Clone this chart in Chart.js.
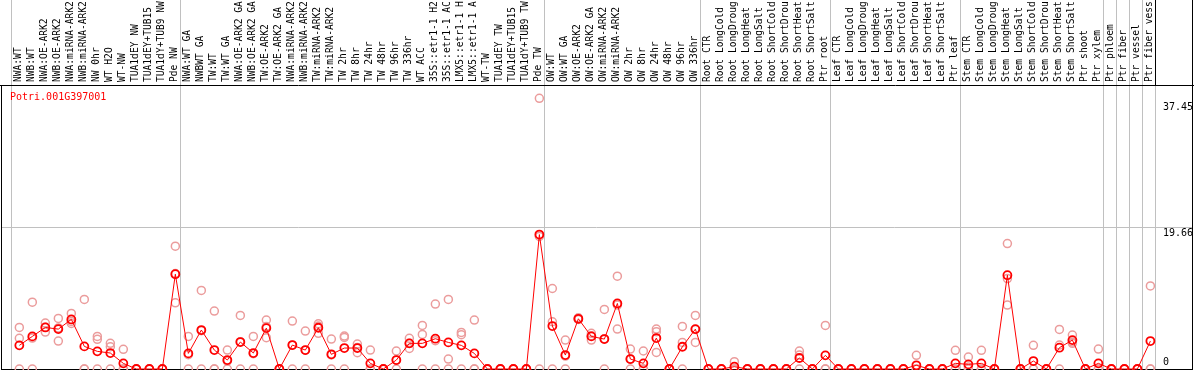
<!DOCTYPE html>
<html>
<head>
<meta charset="utf-8">
<script src="https://cdn.jsdelivr.net/npm/chart.js@4"></script>
<style>
  html, body { margin: 0; padding: 0; background: #fff; }
</style>
</head>
<body>
<canvas id="expr-chart" width="1194" height="370"></canvas>
<script>
// Nome do gene
var geneName = 'Potri.001G397001';

// Amostras (eixo x)
var categories = [
    'NWA:WT', 'NWB:WT', 'NWA:OE-ARK2', 'NWB:OE-ARK2', 'NWA:miRNA-ARK2', 'NWB:miRNA-ARK2',
    'NW 0hr', 'WT H2O', 'WT-NW', 'TUA1dEY NW', 'TUA1dEY+TUB15', 'TUA1dY+TUB9 NW', 'Pde NW',
    'NWA:WT GA', 'NWBWT GA', 'TW:WT', 'TW:WT GA', 'NWA:OE-ARK2 GA', 'NWB:OE-ARK2 GA',
    'TW:OE-ARK2', 'TW:OE-ARK2 GA', 'NWA:miRNA-ARK2', 'NWB:miRNA-ARK2', 'TW:miRNA-ARK2',
    'TW:miRNA-ARK2', 'TW 2hr', 'TW 8hr', 'TW 24hr', 'TW 48hr', 'TW 96hr', 'TW 336hr',
    'WT ACC', '35S::etr1-1 H2', '35S::etr1-1 AC', 'LMX5::etr1-1 H', 'LMX5::etr1-1 A',
    'WT-TW', 'TUA1dEY TW', 'TUA1dEY+TUB15', 'TUA1dY+TUB9 TW', 'Pde TW',
    'OW:WT', 'OW:WT GA', 'OW:OE-ARK2', 'OW:OE-ARK2 GA', 'OW:miRNA-ARK2', 'OW:miRNA-ARK2',
    'OW 2hr', 'OW 8hr', 'OW 24hr', 'OW 48hr', 'OW 96hr', 'OW 336hr',
    'Root CTR', 'Root LongCold', 'Root LongDroug', 'Root LongHeat', 'Root LongSalt',
    'Root ShortCold', 'Root ShortDrou', 'Root ShortHeat', 'Root ShortSalt', 'Ptr root',
    'Leaf CTR', 'Leaf LongCold', 'Leaf LongDroug', 'Leaf LongHeat', 'Leaf LongSalt',
    'Leaf ShortCold', 'Leaf ShortDrou', 'Leaf ShortHeat', 'Leaf ShortSalt', 'Ptr leaf',
    'Stem CTR', 'Stem LongCold', 'Stem LongDroug', 'Stem LongHeat', 'Stem LongSalt',
    'Stem ShortCold', 'Stem ShortDrou', 'Stem ShortHeat', 'Stem ShortSalt', 'Ptr shoot',
    'Ptr xylem', 'Ptr phloem', 'Ptr fiber', 'Ptr vessel', 'Ptr fiber vess'
];

// Media das replicas
var meanValues = [
    3.27, 4.51, 5.75, 5.52, 6.86, 3.13, 2.44, 2.21, 0.78, 0, 0, 0, 13.12,
    2.16, 5.39, 2.62, 1.24, 3.73, 2.21, 5.66, 0, 3.31, 2.62, 5.71, 2.03, 2.90, 2.90,
    0.78, 0, 1.24, 3.55, 3.55, 4.19, 3.68, 3.27, 2.16, 0, 0, 0, 0, 18.6,
    5.94, 1.93, 6.95, 4.51, 4.14, 9.07, 1.38, 0.78, 4.28, 0, 3.08, 5.52,
    0, 0, 0.32, 0, 0, 0, 0, 1.52, 0, 1.89,
    0, 0, 0, 0, 0, 0, 0.51, 0, 0, 0.78,
    0.64, 0.78, 0, 12.98, 0, 1.10, 0, 2.95, 4.00, 0,
    0.78, 0, 0, 0, 3.87
];

// Replicas individuais
var rep1 = [
    5.75, 9.25, 6.35, 7.00, 7.69, 9.62, 4.50, 3.55, 2.72, 0, 0, 0, 16.99,
    4.51, 10.87, 8.01, 2.62, 7.41, 4.51, 6.77, 0, 6.63, 5.25, 6.26, 4.14, 4.56, 3.45,
    2.62, 0, 2.49, 4.24, 6.03, 8.98, 9.62, 5.06, 6.77, 0, 0, 0, 0, 37.45,
    11.14, 4.00, 7.09, 4.93, 8.24, 12.85, 2.76, 2.49, 5.52, 0, 5.89, 7.41,
    0, 0, 1.01, 0, 0, 0, 0, 2.49, 0, 6.03,
    0, 0, 0, 0, 0, 0, 1.89, 0, 0, 2.58,
    1.66, 2.58, 0, 17.36, 0, 3.27, 0, 5.48, 4.70, 0,
    2.76, 0, 0, 0, 11.5
];
var rep2 = [
    4.24, 4.28, 5.79, 5.69, 6.58, 0, 4.10, 3.08, 0, 0, 0, 0, 13.2,
    1.97, 5.30, 0, 1.10, 3.78, 2.12, 5.88, 0, 3.30, 2.61, 5.94, 1.95, 4.37, 2.99,
    0, 0, 1.23, 3.56, 4.79, 3.91, 1.38, 4.75, 0, 0, 0, 0, 0, 18.35,
    6.54, 1.79, 6.90, 4.60, 4.18, 8.84, 1.38, 0, 5.16, 0, 3.68, 5.47,
    0, 0, 0, 0, 0, 0, 0, 1.93, 0, 0,
    0, 0, 0, 0, 0, 0, 0, 0, 0, 0,
    0.26, 0, 0, 12.52, 0, 0, 0, 3.31, 3.75, 0,
    0, 0, 0, 0, 0
];
var rep3 = [
    0, 0, 5.11, 3.87, 6.31, 0, 0, 0, 0, 0, 0, 0, 9.16,
    0, 0, 0, 0, 0, 0, 4.33, 0, 0, 0, 4.93, 0, 0, 2.26,
    0, 0, 0, 2.85, 0, 0, 0, 0, 0, 0, 0, 0, 0, 0,
    0, 0, 6.86, 4.00, 0, 5.52, 0, 0, 2.30, 0, 0, 3.68,
    0, 0, 0, 0, 0, 0, 0, 0, 0, 0,
    0, 0, 0, 0, 0, 0, 0, 0, 0, 0,
    0, 0, 0, 8.84, 0, 0, 0, 0, 3.55, 0,
    0, 0, 0, 0, 0
];

// Valores marcados no eixo y
var yTicks = [37.45, 19.66, 0];

// Ultima amostra de cada grupo (-1 = antes da primeira)
var groupEnds = [-1, 12, 40, 52, 62, 72, 83, 84, 85, 86, 87];

function toPoints(arr) {
    return arr.map(function(v, i) { return { x: i, y: v }; });
}

var monoFont = 'DejaVu Sans Mono';

// Linhas de grupo, grade e moldura
var framePlugin = {
    id: 'frame',
    beforeDatasetsDraw: function(chart) {
        var ctx = chart.ctx;
        var area = chart.chartArea;
        var xs = chart.scales.x;
        var ys = chart.scales.y;
        ctx.save();
        ctx.lineWidth = 1;
        ctx.strokeStyle = '#c0c0c0';

        var gy = Math.round(ys.getPixelForValue(yTicks[1])) + 0.5;
        ctx.beginPath();
        ctx.moveTo(area.left, gy);
        ctx.lineTo(area.right, gy);
        ctx.stroke();

        groupEnds.forEach(function(g) {
            var px = Math.round(xs.getPixelForValue(g + 0.385)) + 0.5;
            ctx.beginPath();
            ctx.moveTo(px, 0);
            ctx.lineTo(px, area.bottom);
            ctx.stroke();
        });

        // caixa dos rotulos
        ctx.strokeStyle = '#000';
        var lastX = Math.round(xs.getPixelForValue(groupEnds[groupEnds.length - 1] + 0.385)) + 0.5;
        ctx.beginPath();
        ctx.moveTo(lastX, 0);
        ctx.lineTo(lastX, area.top);
        ctx.moveTo(0, area.top + 0.5);
        ctx.lineTo(chart.width, area.top + 0.5);
        ctx.moveTo(area.left + 0.5, area.top);
        ctx.lineTo(area.left + 0.5, area.bottom + 1);
        ctx.moveTo(area.right + 0.5, 0);
        ctx.lineTo(area.right + 0.5, area.bottom + 1);
        ctx.moveTo(area.left, area.bottom + 0.5);
        ctx.lineTo(area.right + 1, area.bottom + 0.5);
        ctx.stroke();
        ctx.restore();
    },
    afterDatasetsDraw: function(chart) {
        var ctx = chart.ctx;
        var area = chart.chartArea;
        var ys = chart.scales.y;
        ctx.save();
        ctx.font = '10px ' + monoFont;
        ctx.textAlign = 'left';
        ctx.textBaseline = 'middle';

        ctx.fillStyle = '#ff0000';
        ctx.fillText(geneName, 10, area.top + 12);

        // rotulos do eixo y, dentro da area
        ctx.fillStyle = '#000';
        yTicks.forEach(function(t, i) {
            var py = ys.getPixelForValue(t);
            var shift = t > 0 ? (i === 0 ? 9 : 6) : -7;
            ctx.fillText(String(t), 1163, py + shift);
        });
        ctx.restore();
    }
};

var ctx = document.getElementById('expr-chart').getContext('2d');

var replicaStyle = {
    showLine: false,
    pointRadius: 4,
    pointBorderWidth: 1.5,
    pointBorderColor: '#eb9c9c',
    pointBackgroundColor: 'rgba(255,255,255,0)',
    clip: false
};

var exprChart = new Chart(ctx, {
    type: 'line',
    data: {
        datasets: [
            {
                label: geneName,
                data: toPoints(meanValues),
                borderColor: '#ff0000',
                borderWidth: 1,
                pointRadius: 4,
                pointBorderWidth: 1.8,
                pointBorderColor: '#ff0000',
                pointBackgroundColor: 'rgba(255,255,255,0)',
                tension: 0,
                clip: false
            },
            Object.assign({ label: 'rep1', data: toPoints(rep1) }, replicaStyle),
            Object.assign({ label: 'rep2', data: toPoints(rep2) }, replicaStyle),
            Object.assign({ label: 'rep3', data: toPoints(rep3) }, replicaStyle)
        ]
    },
    options: {
        responsive: false,
        devicePixelRatio: 1,
        animation: false,
        events: [],
        layout: { autoPadding: false, padding: { left: 1, right: 2, top: 0, bottom: 1 } },
        plugins: {
            legend: { display: false },
            tooltip: { enabled: false }
        },
        scales: {
            x: {
                type: 'linear',
                position: 'top',
                min: -1.41,
                max: 90.2,
                afterBuildTicks: function(scale) {
                    scale.ticks = categories.map(function(c, i) { return { value: i }; });
                },
                afterFit: function(scale) {
                    scale.height = 85;
                    scale.paddingLeft = 0;
                    scale.paddingRight = 0;
                },
                grid: { display: false, drawTicks: false },
                border: { display: false },
                ticks: {
                    autoSkip: false,
                    minRotation: 90,
                    maxRotation: 90,
                    padding: 3,
                    labelOffset: 10.5,
                    color: '#000',
                    font: { family: monoFont, size: 9.6 },
                    callback: function(value) { return categories[value]; }
                }
            },
            y: {
                display: false,
                min: 0,
                max: 39.3
            }
        }
    },
    plugins: [framePlugin]
});
</script>
</body>
</html>
